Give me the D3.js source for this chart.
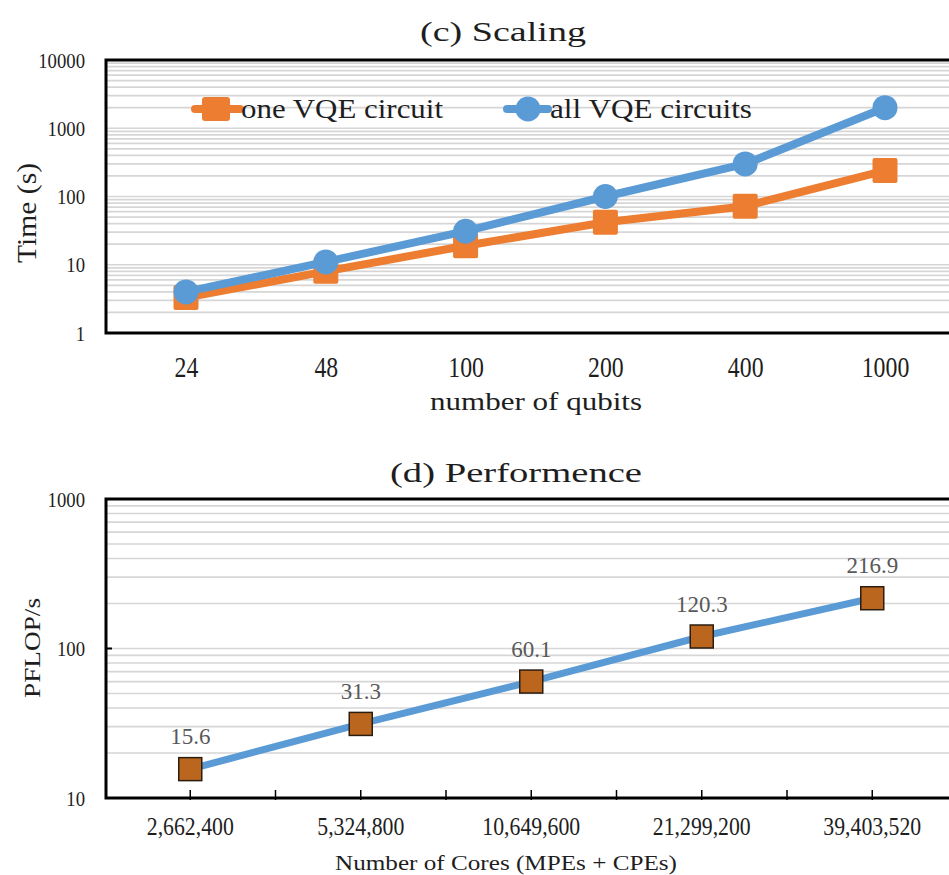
<!DOCTYPE html>
<html>
<head>
<meta charset="utf-8">
<script src="https://cdn.jsdelivr.net/npm/d3@7"></script>
<style>
  html, body { margin: 0; padding: 0; background: #fff; }
  svg { display: block; }
  svg text { font-family: "Liberation Serif", "Times New Roman", "DejaVu Serif", serif; }
</style>
</head>
<body>
<svg id="chart" width="949" height="875"></svg>
<script>
// ---- (c) Scaling data ----
const qubits = ["24", "48", "100", "200", "400", "1000"];
const oneCircuit = [3.3, 8, 19, 42, 72, 240];
const allCircuits = [4, 11, 31, 100, 300, 2000];
const timeTicks = [1, 10, 100, 1000, 10000];

// ---- (d) Performance data ----
const cores = ["2,662,400", "5,324,800", "10,649,600", "21,299,200", "39,403,520"];
const pflops = [15.6, 31.3, 60.1, 120.3, 216.9];
const pflopTicks = [10, 100, 1000];

const ORANGE = "#ED7D31";
const BLUE = "#5B9BD5";
const GRID = "#d6d6d6";
const INK = "#1e1e1e";

const svg = d3.select("#chart");

// minor + major gridline values for a log domain
function logGridValues(lo, hi) {
  const vals = [];
  for (let p = lo; p < hi; p *= 10) {
    for (let m = 1; m <= 9; m++) vals.push(p * m);
  }
  vals.push(hi);
  return vals;
}

// squeeze a text's run to a fixed length or by a factor of its natural length
function fitWidth(sel, target) {
  sel.each(function (d, i) {
    const natural = this.getComputedTextLength();
    const len = typeof target === "function" ? target(natural) : target;
    d3.select(this).attr("textLength", len).attr("lengthAdjust", "spacingAndGlyphs");
  });
}

/* =========================== (c) Scaling =========================== */
{
  const box = { left: 106, top: 60, bottom: 333, right: 970 };
  const y = d3.scaleLog().domain([1, 10000]).range([box.bottom, box.top]);
  const x = d3.scalePoint().domain(qubits).range([186, 885]);
  const g = svg.append("g");

  g.append("g").selectAll("line")
    .data(logGridValues(1, 10000).filter(v => v > 1 && v < 10000))
    .join("line")
    .attr("x1", box.left).attr("x2", box.right)
    .attr("y1", d => y(d)).attr("y2", d => y(d))
    .attr("stroke", GRID).attr("stroke-width", 1.7);

  g.append("rect")
    .attr("x", box.left).attr("y", box.top)
    .attr("width", box.right - box.left).attr("height", box.bottom - box.top)
    .attr("fill", "none").attr("stroke", "#000").attr("stroke-width", 3);

  // y axis labels
  const ya = g.append("g").attr("transform", `translate(${box.left},0)`)
    .call(d3.axisLeft(y).tickValues(timeTicks).tickFormat(d3.format("d")).tickSize(0).tickPadding(21));
  ya.select(".domain").remove();
  ya.attr("font-family", null);
  ya.selectAll("text").attr("font-size", 22).attr("fill", INK).call(fitWidth, w => w * 0.85);

  // x axis labels
  const xa = g.append("g").attr("transform", `translate(0,${box.bottom})`)
    .call(d3.axisBottom(x).tickSize(0).tickPadding(0));
  xa.select(".domain").remove();
  xa.attr("font-family", null);
  xa.selectAll("text").attr("y", 44).attr("dy", 0)
    .attr("font-size", 29).attr("fill", INK).call(fitWidth, w => w * 0.82);

  // titles
  g.append("text").attr("x", 503).attr("y", 41)
    .attr("text-anchor", "middle").attr("font-size", 28).attr("fill", INK).text("(c) Scaling")
    .call(fitWidth, 166);
  g.append("text").attr("x", 536).attr("y", 410)
    .attr("text-anchor", "middle").attr("font-size", 26).attr("fill", INK).text("number of qubits")
    .call(fitWidth, 212);
  g.append("text").attr("transform", "translate(36,213) rotate(-90)")
    .attr("text-anchor", "middle").attr("font-size", 28).attr("fill", INK).text("Time (s)")
    .call(fitWidth, 100);

  const line = d3.line().x((d, i) => x(qubits[i])).y(d => y(d));

  // one VQE circuit (orange squares)
  g.append("path").datum(oneCircuit).attr("d", line)
    .attr("fill", "none").attr("stroke", ORANGE).attr("stroke-width", 8).attr("stroke-linejoin", "round");
  g.append("g").selectAll("rect").data(oneCircuit).join("rect")
    .attr("x", (d, i) => x(qubits[i]) - 12.5).attr("y", d => y(d) - 12.5)
    .attr("width", 25).attr("height", 25).attr("rx", 2)
    .attr("fill", ORANGE);

  // all VQE circuits (blue circles)
  g.append("path").datum(allCircuits).attr("d", line)
    .attr("fill", "none").attr("stroke", BLUE).attr("stroke-width", 8).attr("stroke-linejoin", "round");
  g.append("g").selectAll("circle").data(allCircuits).join("circle")
    .attr("cx", (d, i) => x(qubits[i])).attr("cy", d => y(d)).attr("r", 12.5)
    .attr("fill", BLUE);

  // legend
  const leg = g.append("g");
  leg.append("line").attr("x1", 195).attr("x2", 240).attr("y1", 109).attr("y2", 109)
    .attr("stroke", ORANGE).attr("stroke-width", 8).attr("stroke-linecap", "round");
  leg.append("rect").attr("x", 202).attr("y", 97).attr("width", 28).attr("height", 24).attr("rx", 3).attr("fill", ORANGE);
  leg.append("text").attr("x", 241).attr("y", 118).attr("font-size", 27).attr("fill", INK).text("one VQE circuit")
    .call(fitWidth, 202);

  leg.append("line").attr("x1", 507).attr("x2", 548).attr("y1", 109).attr("y2", 109)
    .attr("stroke", BLUE).attr("stroke-width", 8).attr("stroke-linecap", "round");
  leg.append("circle").attr("cx", 528).attr("cy", 109).attr("r", 12.5).attr("fill", BLUE);
  leg.append("text").attr("x", 550).attr("y", 118).attr("font-size", 27).attr("fill", INK).text("all VQE circuits")
    .call(fitWidth, 202);
}

/* ========================= (d) Performence ========================= */
{
  const box = { left: 106, top: 499, bottom: 798, right: 970 };
  const y = d3.scaleLog().domain([10, 1000]).range([box.bottom, box.top]);
  const x = d3.scaleBand().domain(cores).range([105, 957.5]).padding(0);
  const cx = d => x(d) + x.bandwidth() / 2;
  const g = svg.append("g");

  g.append("g").selectAll("line")
    .data(logGridValues(10, 1000).filter(v => v > 10 && v < 1000))
    .join("line")
    .attr("x1", box.left).attr("x2", box.right)
    .attr("y1", d => y(d)).attr("y2", d => y(d))
    .attr("stroke", GRID).attr("stroke-width", 1.7);

  g.append("rect")
    .attr("x", box.left).attr("y", box.top)
    .attr("width", box.right - box.left).attr("height", box.bottom - box.top)
    .attr("fill", "none").attr("stroke", "#000").attr("stroke-width", 3);

  // inner tick on the y axis at 100
  g.append("line").attr("x1", box.left).attr("x2", box.left + 6)
    .attr("y1", y(100)).attr("y2", y(100)).attr("stroke", "#000").attr("stroke-width", 2);

  // x ticks: band centres and band edges, pointing up from the axis
  const tickXs = [];
  cores.forEach(c => { tickXs.push(cx(c)); tickXs.push(x(c) + x.bandwidth()); });
  g.append("g").selectAll("line").data(tickXs.filter(v => v < 949)).join("line")
    .attr("x1", d => d).attr("x2", d => d)
    .attr("y1", box.bottom - 8).attr("y2", box.bottom + 2)
    .attr("stroke", "#000").attr("stroke-width", 1.5);

  const ya = g.append("g").attr("transform", `translate(${box.left},0)`)
    .call(d3.axisLeft(y).tickValues(pflopTicks).tickFormat(d3.format("d")).tickSize(0).tickPadding(21));
  ya.select(".domain").remove();
  ya.attr("font-family", null);
  ya.selectAll("text").attr("font-size", 22).attr("fill", INK).call(fitWidth, w => w * 0.85);

  const xa = g.append("g").attr("transform", `translate(0,${box.bottom})`)
    .call(d3.axisBottom(x).tickSize(0).tickPadding(0));
  xa.select(".domain").remove();
  xa.attr("font-family", null);
  xa.selectAll("text").attr("y", 37).attr("dy", 0)
    .attr("font-size", 25).attr("fill", INK).call(fitWidth, w => w * 0.87);

  g.append("text").attr("x", 516).attr("y", 482)
    .attr("text-anchor", "middle").attr("font-size", 28).attr("fill", INK).text("(d) Performence")
    .call(fitWidth, 252);
  g.append("text").attr("x", 506).attr("y", 870)
    .attr("text-anchor", "middle").attr("font-size", 22).attr("fill", INK).text("Number of Cores (MPEs + CPEs)")
    .call(fitWidth, 342);
  g.append("text").attr("transform", "translate(40,648) rotate(-90)")
    .attr("text-anchor", "middle").attr("font-size", 23).attr("fill", INK).text("PFLOP/s")
    .call(fitWidth, 100);

  const line = d3.line().x((d, i) => cx(cores[i])).y(d => y(d));
  g.append("path").datum(pflops).attr("d", line)
    .attr("fill", "none").attr("stroke", BLUE).attr("stroke-width", 7).attr("stroke-linejoin", "round");

  g.append("g").selectAll("rect").data(pflops).join("rect")
    .attr("x", (d, i) => cx(cores[i]) - 11.5).attr("y", d => y(d) - 11.5)
    .attr("width", 23).attr("height", 23)
    .attr("fill", "#BA661F").attr("stroke", "#2b1d10").attr("stroke-width", 1.5);

  g.append("g").selectAll("text").data(pflops).join("text")
    .attr("x", (d, i) => cx(cores[i]))
    .attr("y", d => y(d) - 25)
    .attr("text-anchor", "middle").attr("font-size", 23).attr("fill", "#595959")
    .text(d => d3.format(".1f")(d))
    .call(fitWidth, w => w * 1.0);
}
</script>
</body>
</html>
